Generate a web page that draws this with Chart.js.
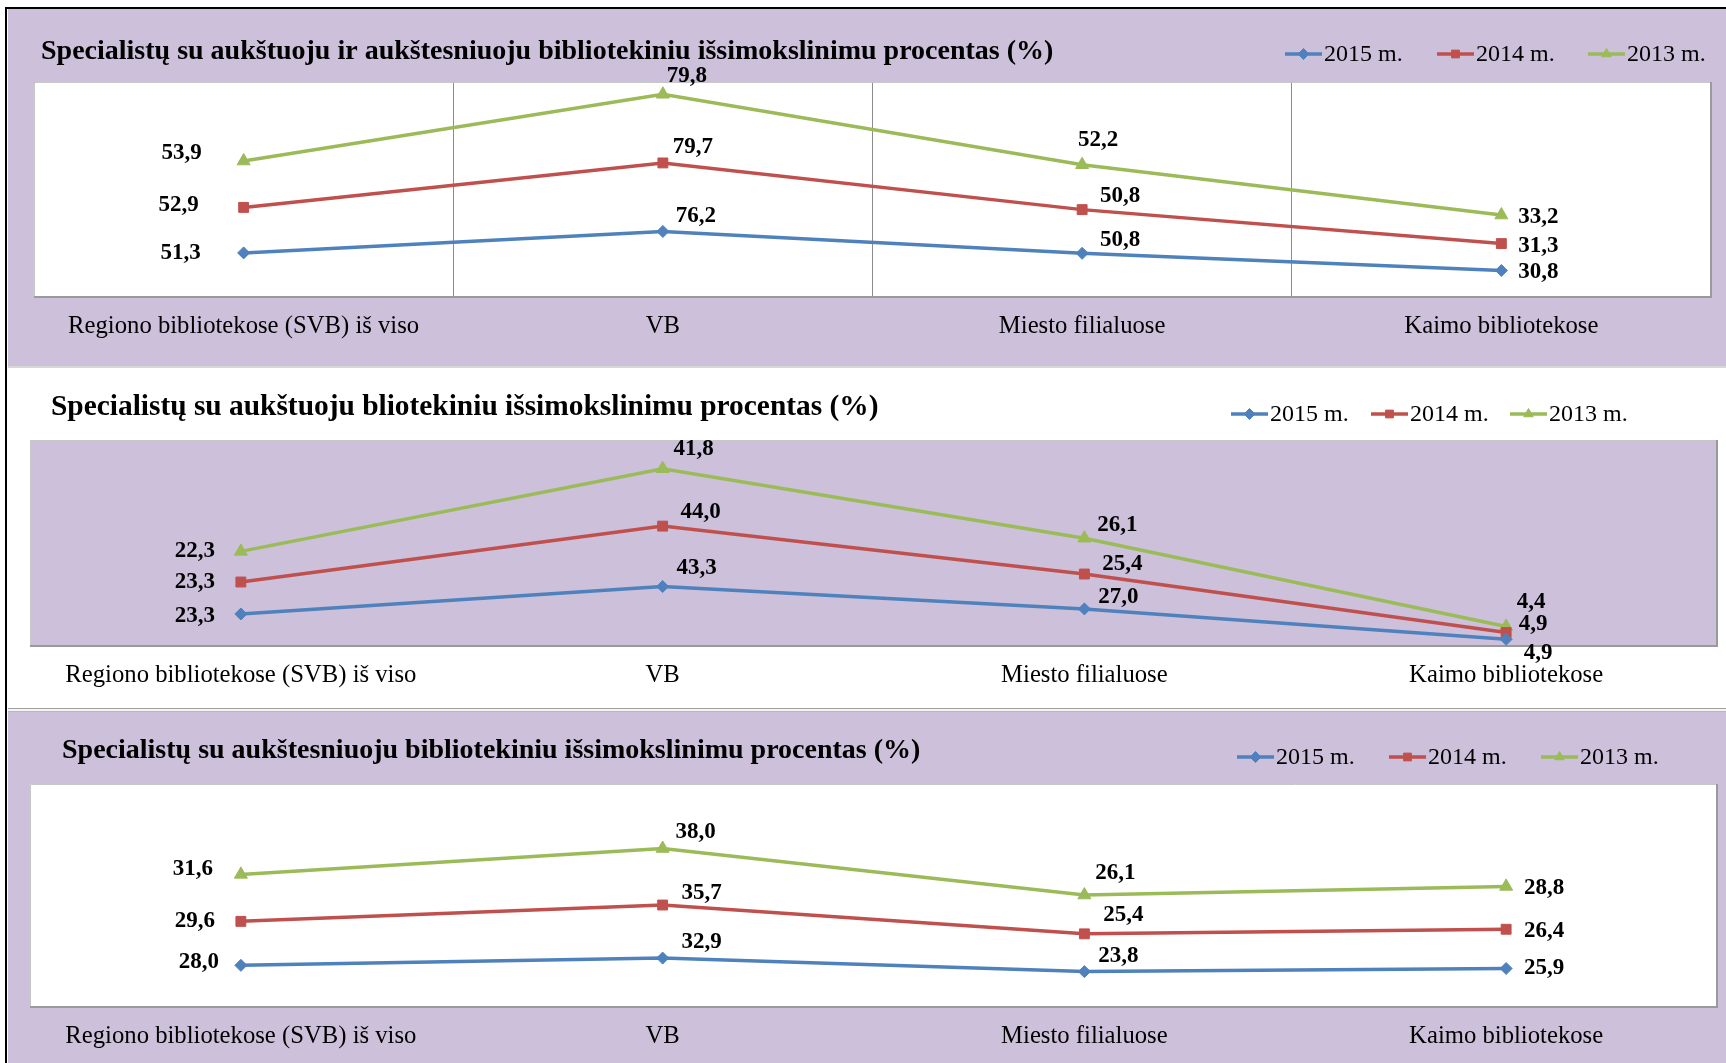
<!DOCTYPE html>
<html lang="lt">
<head>
<meta charset="utf-8">
<script src="https://cdn.jsdelivr.net/npm/chart.js@4/dist/chart.umd.min.js"></script>
<style>
  html, body { margin: 0; padding: 0; background: #fff; }
  body { width: 1726px; height: 1063px; position: relative; overflow: hidden; }
  .panel { position: absolute; left: 8px; width: 1718px; }
  .panel canvas { display: block; }
  #p1 { top: 9px; height: 357px; background: #ccc0da; }
  #p2 { top: 370px; height: 338px; background: #fff; }
  #p3 { top: 712px; height: 351px; background: #ccc0da; }
  .sep1 { position: absolute; left: 8px; top: 366px; width: 1718px; height: 4px; border-top: 2px solid #d6d6d6; box-sizing: border-box; }
  .sep2 { position: absolute; left: 8px; top: 708px; width: 1718px; height: 4px; border-top: 1px solid #a0a0a0; border-bottom: 1px solid #b8b8b8; background: #f4f4f4; box-sizing: border-box; }
  .frame-top { position: absolute; left: 5px; top: 7px; width: 1721px; height: 2px; background: #000; }
  .frame-left { position: absolute; left: 5px; top: 7px; width: 2px; height: 1056px; background: #000; }
</style>
</head>
<body>
<div class="panel" id="p1"><canvas id="c1" width="1718" height="357"></canvas></div>
<div class="sep1"></div>
<div class="panel" id="p2"><canvas id="c2" width="1718" height="338"></canvas></div>
<div class="sep2"></div>
<div class="panel" id="p3"><canvas id="c3" width="1718" height="351"></canvas></div>
<div class="frame-top"></div>
<div class="frame-left"></div>

<script>
(() => {
  'use strict'

  // Data
  const categories = ['Regiono bibliotekose (SVB) iš viso', 'VB', 'Miesto filialuose', 'Kaimo bibliotekose'];
  const seriesNames = ['2015 m.', '2014 m.', '2013 m.'];

  // 1: aukštasis ir aukštesnysis
  const all2015 = [51.3, 76.2, 50.8, 30.8];
  const all2014 = [52.9, 79.7, 50.8, 31.3];
  const all2013 = [53.9, 79.8, 52.2, 33.2];

  // 2: aukštasis
  const high2015 = [23.3, 43.3, 27.0, 4.9];
  const high2014 = [23.3, 44.0, 25.4, 4.9];
  const high2013 = [22.3, 41.8, 26.1, 4.4];

  // 3: aukštesnysis
  const upper2015 = [28.0, 32.9, 23.8, 25.9];
  const upper2014 = [29.6, 35.7, 25.4, 26.4];
  const upper2013 = [31.6, 38.0, 26.1, 28.8];

  const colors = ['#4f81bd', '#c0504d', '#9bbb59'];
  const pointStyles = ['rectRot', 'rect', 'triangle'];
  const pointSizes = [6, 7, 7.5];
  const serif = '"Liberation Serif", "Times New Roman", serif';
  const fmt = v => v.toFixed(1).replace('.', ',');

  const drawMarker = (ctx, style, radius, x, y) => {
    Chart.helpers.drawPoint(ctx, { pointStyle: style, radius: radius, borderWidth: 1, rotation: 0 }, x, y);
  };

  const makeChart = (id, cfg) => {
    const H = document.getElementById(id).height;

    // background, border, title, legend and value labels
    const panelPlugin = {
      id: 'panelDeco',
      beforeDraw(chart) {
        const { ctx, chartArea: a } = chart;
        ctx.save();
        ctx.fillStyle = cfg.plotBg;
        ctx.fillRect(a.left, a.top, a.right - a.left, a.bottom - a.top);
        ctx.restore();
      },
      beforeDatasetsDraw(chart) {
        const { ctx, chartArea: a } = chart;
        ctx.save();
        ctx.strokeStyle = '#c8c8c8';
        ctx.lineWidth = 1;
        ctx.beginPath();
        ctx.moveTo(a.left + 0.5, a.bottom);
        ctx.lineTo(a.left + 0.5, a.top + 0.5);
        ctx.lineTo(a.right, a.top + 0.5);
        ctx.stroke();
        ctx.strokeStyle = '#9a9a9a';
        ctx.lineWidth = 2;
        ctx.beginPath();
        ctx.moveTo(a.right, a.top);
        ctx.lineTo(a.right, a.bottom);
        ctx.lineTo(a.left, a.bottom);
        ctx.stroke();
        ctx.restore();
      },
      afterDatasetsDraw(chart) {
        const ctx = chart.ctx;
        ctx.save();
        ctx.font = 'bold 23px ' + serif;
        ctx.fillStyle = '#000';
        ctx.textAlign = 'center';
        ctx.textBaseline = 'middle';
        chart.data.datasets.forEach((ds, d) => {
          chart.getDatasetMeta(d).data.forEach((pt, i) => {
            const off = cfg.labelOffsets[d][i];
            ctx.fillText(fmt(ds.data[i]), pt.x + off[0], pt.y + off[1]);
          });
        });
        ctx.restore();
      },
      afterDraw(chart) {
        const ctx = chart.ctx;
        ctx.save();
        ctx.fillStyle = '#000';
        ctx.textBaseline = 'middle';
        ctx.textAlign = 'left';
        ctx.font = 'bold ' + cfg.titleSize + 'px ' + serif;
        ctx.fillText(cfg.title, cfg.titleX, cfg.titleY);

        ctx.font = '24px ' + serif;
        seriesNames.forEach((name, i) => {
          const x0 = cfg.legendX[i], y = cfg.legendY;
          ctx.strokeStyle = colors[i];
          ctx.lineWidth = 3.5;
          ctx.beginPath();
          ctx.moveTo(x0, y);
          ctx.lineTo(x0 + 37, y);
          ctx.stroke();
          ctx.fillStyle = colors[i];
          ctx.lineWidth = 1;
          drawMarker(ctx, pointStyles[i], 5.5, x0 + 18.5, y);
          ctx.fillStyle = '#000';
          ctx.fillText(name, x0 + 39, y + 1);
        });
        ctx.restore();
      }
    };

    return new Chart(document.getElementById(id), {
      type: 'line',
      data: {
        labels: categories,
        datasets: cfg.series.map((vals, i) => ({
          label: seriesNames[i],
          data: vals,
          borderColor: colors[i],
          backgroundColor: colors[i],
          borderWidth: 3.5,
          pointStyle: pointStyles[i],
          pointRadius: pointSizes[i],
          pointBorderWidth: 1,
          tension: 0,
          fill: false
        }))
      },
      options: {
        responsive: false,
        animation: false,
        layout: { padding: { left: cfg.area[0], right: cfg.area[1], top: cfg.area[2], bottom: 0 } },
        scales: {
          x: {
            offset: true,
            grid: { display: cfg.vGrid, color: '#8c8c8c', lineWidth: 1, drawTicks: false, offset: true },
            border: { display: false },
            ticks: { color: '#000', font: { family: serif, size: 24.7 }, padding: 15, maxRotation: 0, autoSkip: false },
            afterFit: s => { s.height = H - cfg.area[3]; }
          },
          y: { display: false, stacked: true, min: 0, max: cfg.max }
        },
        plugins: {
          legend: { display: false },
          tooltip: { enabled: false },
          title: { display: false }
        }
      },
      plugins: [panelPlugin]
    });
  };

  makeChart('c1', {
    series: [all2015, all2014, all2013],
    max: 250,
    plotBg: '#ffffff',
    vGrid: true,
    area: [26, 15, 73, 288],
    title: 'Specialistų su aukštuoju ir aukštesniuoju bibliotekiniu išsimokslinimu procentas (%)',
    titleSize: 28, titleX: 33, titleY: 43,
    legendX: [1277, 1429, 1580], legendY: 45,
    labelOffsets: [
      [[-63, 0], [33, -15], [38, -13], [37, 2]],
      [[-65, -2], [30, -16], [38, -14], [37, 2]],
      [[-62, -8], [24, -18], [16, -25], [37, 2]]
    ]
  });

  makeChart('c2', {
    series: [high2015, high2014, high2013],
    max: 150,
    plotBg: '#ccc0da',
    vGrid: false,
    area: [22, 9, 70, 276],
    title: 'Specialistų su aukštuoju bliotekiniu išsimokslinimu procentas (%)',
    titleSize: 29.4, titleX: 43, titleY: 37,
    legendX: [1223, 1363, 1502], legendY: 44,
    labelOffsets: [
      [[-46, 2], [34, -18], [34, -12], [32, 14]],
      [[-46, 0], [38, -14], [38, -10], [27, -8]],
      [[-46, 0], [31, -20], [33, -13], [25, -24]]
    ]
  });

  makeChart('c3', {
    series: [upper2015, upper2014, upper2013],
    max: 150,
    plotBg: '#ffffff',
    vGrid: false,
    area: [22, 9, 72, 295],
    title: 'Specialistų su aukštesniuoju bibliotekiniu išsimokslinimu procentas (%)',
    titleSize: 28, titleX: 54, titleY: 39,
    legendX: [1229, 1381, 1533], legendY: 45,
    labelOffsets: [
      [[-42, -3], [39, -16], [34, -16], [38, 0]],
      [[-46, 0], [39, -12], [39, -19], [38, 2]],
      [[-48, -5], [33, -16], [31, -22], [38, 2]]
    ]
  });
})()
</script>
</body>
</html>
